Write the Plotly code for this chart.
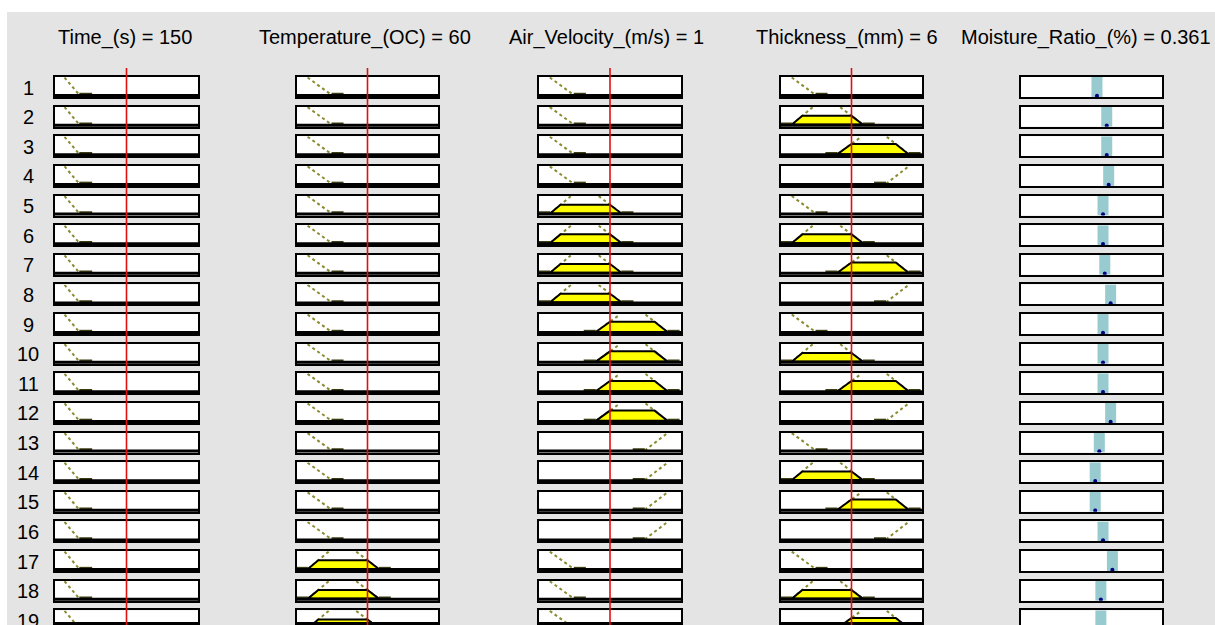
import plotly.graph_objects as go

W, H = 1215, 625

# ---------------- data ----------------
var_names = ["Time_(s)", "Temperature_(OC)", "Air_Velocity_(m/s)", "Thickness_(mm)"]
out_name = "Moisture_Ratio_(%)"

time_range = [0, 300]
temp_range = [40, 80]
air_range = [0, 2]
thick_range = [2, 10]
out_range = [0, 0.722]

input_values = [150, 60, 1, 6]
output_value = 0.361

time_mfs = {"low": [0, 0, 20, 51]}
temp_mfs = {"low": [40, 40, 43.0, 49.8], "medium": [43.1, 49.0, 56.8, 63.2],
            "medhigh": [56.0, 62.8, 70.0, 76.2], "high": [69.8, 76.2, 80, 80]}
air_mfs = {"low": [0, 0, 0.152, 0.49], "medium": [0.156, 0.45, 0.84, 1.16],
           "medhigh": [0.80, 1.14, 1.50, 1.81], "high": [1.49, 1.81, 2, 2]}
thick_mfs = {"low": [2, 2, 2.61, 3.96], "medium": [2.62, 3.80, 5.36, 6.64],
             "medhigh": [5.2, 6.56, 8.0, 9.24], "high": [7.96, 9.24, 10, 10]}
mf_tails = [27, 3.4, 0.17, 0.68]

rule_time = ["low"] * 19
rule_temp = ["low"] * 16 + ["medium"] * 3
rule_air = ["low"] * 4 + ["medium"] * 4 + ["medhigh"] * 4 + ["high"] * 4 + ["low"] * 3
rule_thick = ["low", "medium", "medhigh", "high"] * 4 + ["low", "medium", "medhigh"]
rule_out = [0.389, 0.439, 0.439, 0.449, 0.420, 0.420, 0.429, 0.459, 0.420, 0.420,
            0.420, 0.459, 0.401, 0.380, 0.380, 0.420, 0.468, 0.409, 0.409]
rule_labels = [str(i + 1) for i in range(19)]

ranges = [time_range, temp_range, air_range, thick_range]
mfsets = [time_mfs, temp_mfs, air_mfs, thick_mfs]
rules = [rule_time, rule_temp, rule_air, rule_thick]

# ---------------- layout geometry ----------------
col_left = [53, 295, 537, 779, 1019]
col_right = [200, 440, 683, 924, 1164]
title_shift = [-2, -3, -4, -5, -6]
row_top0, row_pitch, box_h = 75, 29.63, 24
YLO, YHI = -0.12, 1.03
BG = "#e4e4e4"
OLIVE = "#8a8a30"
TAIL = "#3c3c12"
BAR = "#98cbd0"
FONT = dict(family="Arial, Liberation Sans, sans-serif", size=20, color="black")


def trap(x, p):
    a, b, c, d = p
    if x < a or x > d:
        return 0.0
    if b <= x <= c:
        return 1.0
    if x < b:
        return (x - a) / (b - a)
    return (d - x) / (d - c)


fig = go.Figure()
layout = dict(width=W, height=H, margin=dict(l=0, r=0, t=0, b=0),
              paper_bgcolor=BG, plot_bgcolor="white", showlegend=False,
              shapes=[], annotations=[])

axis_common = dict(showgrid=False, zeroline=False, showticklabels=False, ticks="",
                   showline=True, mirror=True, linecolor="black", linewidth=2,
                   fixedrange=True)

n = 0
first_axis_of_col = {}
for r in range(19):
    top = row_top0 + r * row_pitch
    in_top = top + 2
    in_bot = top + box_h - 2
    ppu = (in_bot - in_top) / (YHI - YLO)
    if in_bot > H:
        vis_bot = H
        ylo = YHI - (vis_bot - in_top) / ppu
    else:
        vis_bot = in_bot
        ylo = YLO
    ydom = [1 - vis_bot / H, 1 - in_top / H]
    for c in range(5):
        n += 1
        xa = "x" if n == 1 else f"x{n}"
        ya = "y" if n == 1 else f"y{n}"
        xname = "xaxis" if n == 1 else f"xaxis{n}"
        yname = "yaxis" if n == 1 else f"yaxis{n}"
        xr = ranges[c] if c < 4 else out_range
        if r == 0:
            first_axis_of_col[c] = xa
        layout[xname] = dict(axis_common, domain=[(col_left[c] + 2) / W, (col_right[c] - 2) / W],
                             range=xr, anchor=ya)
        layout[yname] = dict(axis_common, domain=ydom, range=[ylo, YHI], anchor=xa)
        if c < 4:
            p = mfsets[c][rules[c][r]]
            a, b, cc, d = p
            rmin, rmax = xr
            tail = mf_tails[c]
            mu = trap(input_values[c], p)
            # membership function slopes
            lx, ly = [], []
            if b > a:
                lx += [a, b, None]
                ly += [0, 1, None]
            if d > cc:
                lx += [cc, d, None]
                ly += [1, 0, None]
            fig.add_trace(go.Scatter(x=lx, y=ly, mode="lines", xaxis=xa, yaxis=ya,
                                     line=dict(color=OLIVE, width=2, dash="dot"),
                                     hoverinfo="skip"))
            # near-zero tails
            tx, ty = [], []
            if a > rmin:
                tx += [max(rmin, a - tail), a, None]
                ty += [0.06, 0.06, None]
            if d < rmax:
                tx += [d, min(rmax, d + tail), None]
                ty += [0.06, 0.06, None]
            if tx:
                fig.add_trace(go.Scatter(x=tx, y=ty, mode="lines", xaxis=xa, yaxis=ya,
                                         line=dict(color=TAIL, width=2.2), hoverinfo="skip"))
            # clipped fill at membership degree
            if mu > 0:
                fx = [a, a + mu * (b - a), d - mu * (d - cc), d, a]
                fy = [0, mu, mu, 0, 0]
                fig.add_trace(go.Scatter(x=fx, y=fy, mode="lines", fill="toself",
                                         fillcolor="#ffff00", xaxis=xa, yaxis=ya,
                                         line=dict(color="black", width=2), hoverinfo="skip"))
            # thick bottom edge
            fig.add_trace(go.Scatter(x=[rmin, rmax], y=[ylo, ylo], mode="lines",
                                     xaxis=xa, yaxis=ya, line=dict(color="black", width=6),
                                     hoverinfo="skip"))
        else:
            v = rule_out[r]
            bw = 0.078 * (out_range[1] - out_range[0])
            fig.add_trace(go.Bar(x=[v], y=[YHI - YLO], base=[YLO], width=[bw],
                                 marker=dict(color=BAR, line=dict(width=0)),
                                 xaxis=xa, yaxis=ya, hoverinfo="skip"))
            fig.add_trace(go.Scatter(x=[v], y=[-0.05], mode="markers", xaxis=xa, yaxis=ya,
                                     marker=dict(color="#000080", size=4), hoverinfo="skip"))
    # row label
    layout["annotations"].append(dict(text=rule_labels[r], xref="paper", yref="paper",
                                      x=28 / W, y=1 - (top + 12.5) / H, showarrow=False,
                                      xanchor="center", yanchor="middle", font=FONT))

# white page margins (top / left strip)
layout["shapes"].append(dict(type="rect", xref="paper", yref="paper", x0=0, x1=1,
                             y0=1 - 12 / H, y1=1, fillcolor="white", line=dict(width=0),
                             layer="below"))
layout["shapes"].append(dict(type="rect", xref="paper", yref="paper", x0=0, x1=7 / W,
                             y0=0, y1=1, fillcolor="white", line=dict(width=0), layer="below"))

# red input indicator lines
for c in range(4):
    layout["shapes"].append(dict(type="line", xref=first_axis_of_col[c], yref="paper",
                                 x0=input_values[c], x1=input_values[c], y0=0, y1=1 - 68 / H,
                                 line=dict(color="#e01010", width=1.6), layer="above"))

# column titles
titles = [f"{var_names[i]} = {input_values[i]}" for i in range(4)] + [f"{out_name} = {output_value}"]
for c in range(5):
    cx = (col_left[c] + col_right[c]) / 2 + title_shift[c]
    layout["annotations"].append(dict(text=titles[c], xref="paper", yref="paper",
                                      x=cx / W, y=1 - 37 / H, showarrow=False,
                                      xanchor="center", yanchor="middle", font=FONT))

fig.update_layout(**layout)
fig.write_html("out.html")
